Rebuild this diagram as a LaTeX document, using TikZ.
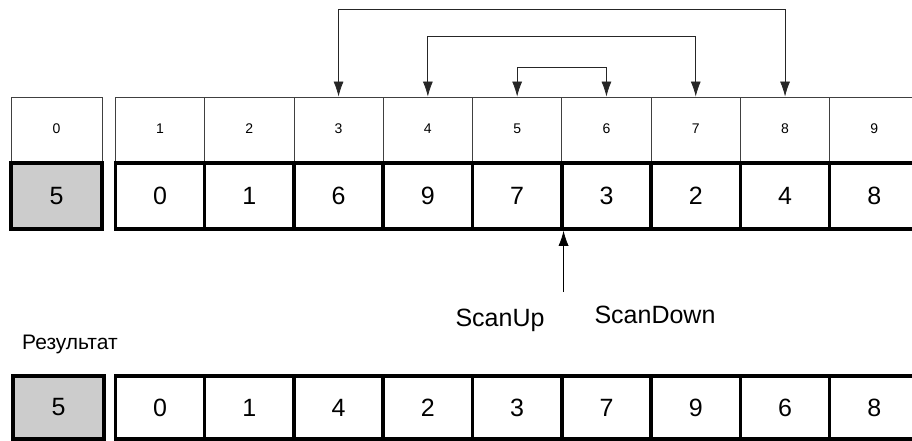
\documentclass[tikz,border=0pt]{standalone}
\usepackage{fontspec}
\setmainfont{Liberation Sans}
\usetikzlibrary{arrows.meta}
\tikzset{
 idxcell/.style={draw=black!75,line width=0.8pt,minimum width=89.3pt,minimum height=64pt,inner sep=0pt,font=\fontsize{14}{16}\selectfont},
 valcell/.style={draw,line width=3.5pt,minimum width=89.3pt,minimum height=66pt,inner sep=0pt,font=\fontsize{25}{28}\selectfont},
 pivot/.style={valcell,fill=black!20,minimum width=91pt},
 swap/.style={{Latex[length=15pt,width=10pt]}-{Latex[length=15pt,width=10pt]},line width=0.8pt,draw=black!85},
 scan/.style={-{Latex[length=15pt,width=10pt]},line width=0.8pt},
 lbl/.style={inner sep=0pt,anchor=base,font=\fontsize{25}{28}\selectfont}
}
\begin{document}
\begin{tikzpicture}[x=1pt,y=-1pt]
\useasboundingbox (0,0) rectangle (912,441);
%pivot cell
\node[idxcell,minimum width=91pt] (idx0) at (56.5,129) {0};
\node[pivot] (val0) at (56.5,196) {5};
\node[pivot,minimum height=63pt] (res0) at (58.5,407.5) {5};
%array before and after
\foreach \i/\a/\b in {1/0/0,2/1/1,3/6/4,4/9/2,5/7/3,6/3/7,7/2/9,8/4/6,9/8/8}{
  \node[idxcell] (idx\i) at (70.65+89.3*\i,129) {\i};
  \node[valcell] (val\i) at (70.65+89.3*\i,196) {\a};
  \node[valcell,minimum height=63pt] (res\i) at (70.65+89.3*\i,407.5) {\b};
}
%swaps
\draw[swap] (idx3.north) -- ++(0,-87) -| (idx8.north);
\draw[swap] (idx4.north) -- ++(0,-60) -| (idx7.north);
\draw[swap] (idx5.north) -- ++(0,-29) -| (idx6.north);
%scan pointers
\coordinate (scanfoot) at (val5.south east |- 0,292);
\draw[scan] (scanfoot) -- (val5.south east);
\node[lbl] (scanup) at (500,326) {ScanUp};
\node[lbl] (scandown) at (655,323) {ScanDown};
\node[lbl,anchor=base west,font=\fontsize{21}{24}\selectfont] (result) at (22,349) {Результат};
\end{tikzpicture}
\end{document}
